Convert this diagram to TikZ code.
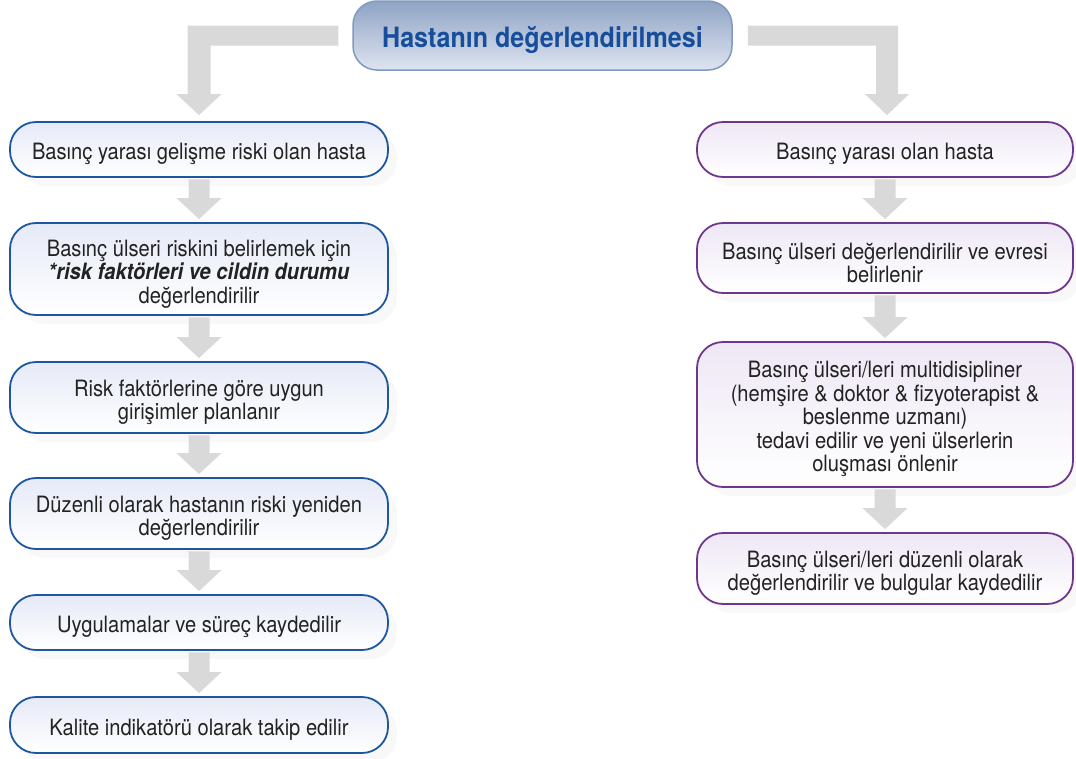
\documentclass[tikz,border=0pt]{standalone}
\usepackage{fontspec}
\setmainfont{TeX Gyre Heros}[FakeStretch=0.895]
\usetikzlibrary{calc,shadows}
\definecolor{arrowgrey}{RGB}{217,217,217}
\definecolor{lblue}{RGB}{30,86,160}
\definecolor{lpurple}{RGB}{110,55,140}
\definecolor{ltopblue}{RGB}{230,234,247}
\definecolor{ltoppurple}{RGB}{238,231,245}
\definecolor{titlecol}{RGB}{22,78,156}
\definecolor{tgtop}{RGB}{143,163,196}
\definecolor{tgbot}{RGB}{222,228,240}
\definecolor{tborder}{RGB}{128,153,192}
\definecolor{txt}{RGB}{34,34,34}
\newcommand\tup{\rule{0pt}{26pt}}
\tikzset{
  box/.style={draw, line width=1.8pt, rounded corners=26pt, align=center,
    inner sep=0pt, text=txt, font=\fontsize{22.5}{23.5}\selectfont,
    drop shadow={shadow xshift=9pt, shadow yshift=-9pt, fill=black!5, draw=none}},
  lbox/.style={box, draw=lblue, top color=ltopblue, bottom color=white, minimum width=378pt},
  rbox/.style={box, draw=lpurple, top color=ltoppurple, bottom color=white, minimum width=376pt},
  titlebox/.style={draw=tborder, line width=1.5pt, rounded corners=24pt, top color=tgtop,
    bottom color=tgbot, minimum width=379pt, minimum height=69pt, inner sep=0pt,
    text=titlecol, font=\fontsize{28}{30}\selectfont\bfseries,
    execute at begin node={\rule{0pt}{31pt}}},
}
\newcommand\flowarr[2]{%
  \fill[arrowgrey] let \p1=(#1.south), \p2=(#2.north) in
    (\x2-10.5pt,\y1-1.5pt) -- (\x2+10.5pt,\y1-1.5pt) -- (\x2+10.5pt,\y2+24pt)
    -- (\x2+22.5pt,\y2+24pt) -- (\x2,\y2+3pt) -- (\x2-22.5pt,\y2+24pt)
    -- (\x2-10.5pt,\y2+24pt) -- cycle;}
\begin{document}
\begin{tikzpicture}[x=1pt,y=-1pt]
\useasboundingbox (0,0) rectangle (1076,758);

\node[titlebox] (top) at (542.5,35.5) {Hastanın değerlendirilmesi};

\node[lbox, minimum height=55pt] (L1) at (199,149.5) {\tup Basınç yarası gelişme riski olan hasta};
\node[lbox, minimum height=92pt] (L2) at (199,269) {\tup Basınç ülseri riskini belirlemek için\\ \textbf{\textit{*risk faktörleri ve cildin durumu}}\\ değerlendirilir};
\node[lbox, minimum height=71pt] (L3) at (199,397.5) {\tup Risk faktörlerine göre uygun\\ girişimler planlanır};
\node[lbox, minimum height=71pt] (L4) at (199,513.5) {\tup Düzenli olarak hastanın riski yeniden\\ değerlendirilir};
\node[lbox, minimum height=55pt] (L5) at (199,622.5) {\tup Uygulamalar ve süreç kaydedilir};
\node[lbox, minimum height=56pt] (L6) at (199,725) {\tup Kalite indikatörü olarak takip edilir};

\node[rbox, minimum height=55pt] (R1) at (885,149.5) {\tup Basınç yarası olan hasta};
\node[rbox, minimum height=70pt] (R2) at (885,258) {\tup Basınç ülseri değerlendirilir ve evresi\\ belirlenir};
\node[rbox, minimum height=145pt] (R3) at (885,414.5) {\tup Basınç ülseri/leri multidisipliner\\ (hemşire \& doktor \& fizyoterapist \&\\ beslenme uzmanı)\\ tedavi edilir ve yeni ülserlerin\\ oluşması önlenir};
\node[rbox, minimum height=71pt] (R4) at (885,568.5) {\tup Basınç ülseri/leri düzenli olarak\\ değerlendirilir ve bulgular kaydedilir};

\flowarr{L1}{L2}
\flowarr{L2}{L3}
\flowarr{L3}{L4}
\flowarr{L4}{L5}
\flowarr{L5}{L6}
\flowarr{R1}{R2}
\flowarr{R2}{R3}
\flowarr{R3}{R4}

% bent arrows from the title
\fill[arrowgrey] let \p1=(top.west), \p2=(L1.north) in
  (\x1-14pt,\y1+10pt) -- (\x2-11.5pt,\y1+10pt) -- (\x2-11.5pt,\y2+27pt)
  -- (\x2-22.5pt,\y2+27pt) -- (\x2,\y2+6pt) -- (\x2+22.5pt,\y2+27pt)
  -- (\x2+11.5pt,\y2+27pt) -- (\x2+11.5pt,\y1-10pt) -- (\x1-14pt,\y1-10pt) -- cycle;
\fill[arrowgrey] let \p1=(top.east), \p2=(R1.north) in
  (\x1+15pt,\y1+10pt) -- (\x2+13pt,\y1+10pt) -- (\x2+13pt,\y2+27pt)
  -- (\x2+24pt,\y2+27pt) -- (\x2+2pt,\y2+6pt) -- (\x2-20pt,\y2+27pt)
  -- (\x2-9pt,\y2+27pt) -- (\x2-9pt,\y1-10pt) -- (\x1+15pt,\y1-10pt) -- cycle;
\end{tikzpicture}
\end{document}
